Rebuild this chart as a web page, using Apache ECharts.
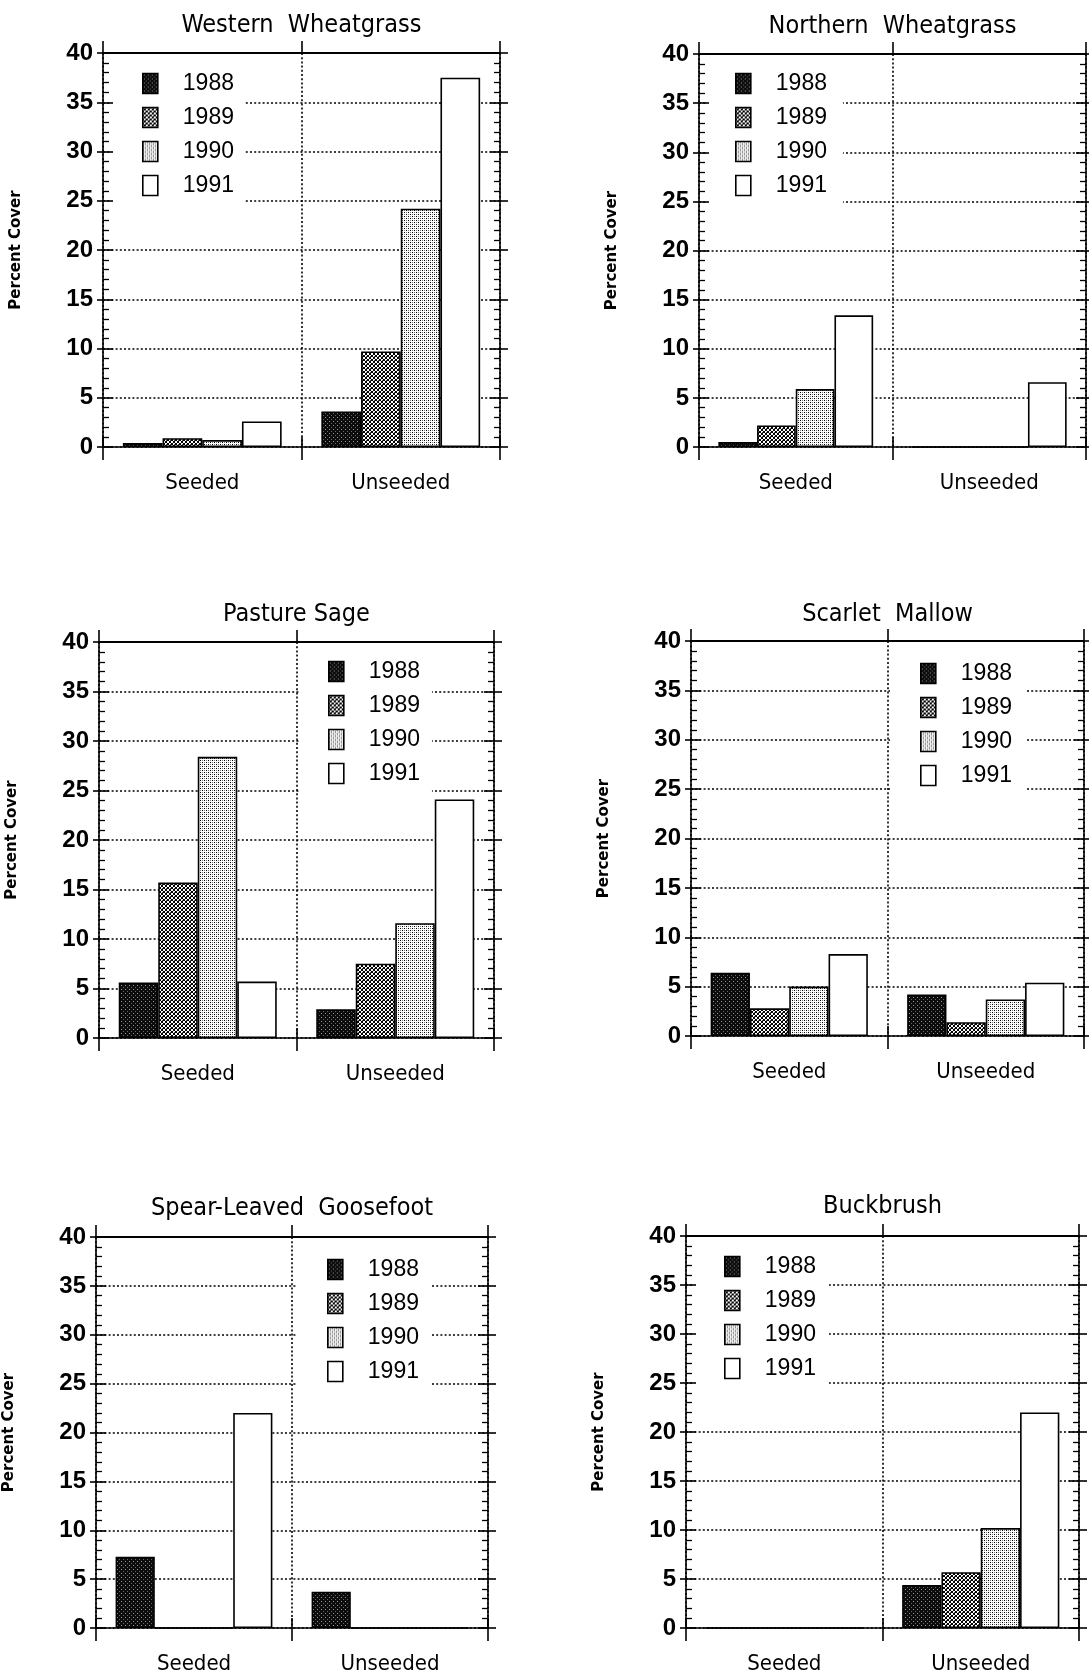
<!DOCTYPE html>
<html>
<head>
<meta charset="utf-8">
<script src="https://cdn.jsdelivr.net/npm/echarts@6/dist/echarts.min.js"></script>
<style>
  html, body { margin: 0; padding: 0; background: #fff; }
  #chart { width: 1089px; height: 1676px; }
</style>
</head>
<body>
<div id="chart"></div>
<script>
// Percent cover by treatment (Seeded / Unseeded) and year
const categories = ['Seeded', 'Unseeded'];
const years = ['1988', '1989', '1990', '1991'];
const panelTitles = ['Western  Wheatgrass', 'Northern  Wheatgrass', 'Pasture Sage',
                     'Scarlet  Mallow', 'Spear-Leaved  Goosefoot', 'Buckbrush'];

// one row per year (1988..1991), columns = [Seeded, Unseeded]
const westernWheatgrass = [[0.4, 3.6], [0.9, 9.7], [0.7, 24.2], [2.6, 37.5]];
const northernWheatgrass = [[0.5, 0], [2.2, 0], [5.9, 0], [13.4, 6.6]];
const pastureSage = [[5.6, 2.9], [15.7, 7.5], [28.4, 11.6], [5.7, 24.1]];
const scarletMallow = [[6.4, 4.2], [2.8, 1.4], [5.0, 3.7], [8.3, 5.4]];
const spearLeavedGoosefoot = [[7.3, 3.7], [0, 0], [0, 0], [22.0, 0]];
const buckbrush = [[0, 4.4], [0, 5.7], [0, 10.2], [0, 22.0]];

const panelData = [westernWheatgrass, northernWheatgrass, pastureSage,
                   scarletMallow, spearLeavedGoosefoot, buckbrush];

// plot boxes (px) for the six panels
const plotBoxes = [
  { l: 103, t: 53,   r: 500,  b: 447 },
  { l: 699, t: 54,   r: 1086, b: 447 },
  { l: 99,  t: 642,  r: 494,  b: 1038 },
  { l: 691, t: 641,  r: 1084, b: 1036 },
  { l: 96,  t: 1237, r: 488,  b: 1628 },
  { l: 686, t: 1236, r: 1079, b: 1628 }
];
const titleCenterY = [25, 26, 614, 614, 1208, 1206];
// legend: box left/top, swatch left, first swatch top, right padding
const legendBoxes = [
  { x: 110, y: 57,   sx: 142, sy: 72,   pr: 11 },
  { x: 706, y: 58,   sx: 735, sy: 72,   pr: 16 },
  { x: 300, y: 646,  sx: 328, sy: 660,  pr: 12 },
  { x: 890, y: 645,  sx: 920, sy: 662,  pr: 15 },
  { x: 297, y: 1241, sx: 327, sy: 1258, pr: 13 },
  { x: 692, y: 1240, sx: 724, sy: 1255, pr: 13 }
];

const CONDENSED = "'DejaVu Sans Condensed', 'Liberation Sans', sans-serif";
const SANS = "'Liberation Sans', Arial, sans-serif";
const INK = '#000';

function makePattern(size, bg, dots) {
  const c = document.createElement('canvas');
  c.width = c.height = size;
  const ctx = c.getContext('2d');
  ctx.fillStyle = bg;
  ctx.fillRect(0, 0, size, size);
  dots.forEach(([x, y, col]) => { ctx.fillStyle = col; ctx.fillRect(x, y, 1, 1); });
  return { image: c, repeat: 'repeat' };
}

// shaded fills for the four years
const fills = [
  makePattern(4, '#0c0c0c', [[1, 1, '#9a9a9a'], [3, 3, '#666666']]),
  makePattern(4, '#ffffff', [[0, 0, '#000'], [1, 1, '#000'], [2, 2, '#000'], [3, 3, '#000'],
                             [3, 0, '#000'], [2, 1, '#000'], [1, 2, '#000'], [0, 3, '#000'],
                             [2, 0, '#555']]),
  makePattern(4, '#ffffff', [[0, 0, '#000'], [2, 2, '#000'], [2, 0, '#777'], [0, 2, '#777']]),
  '#ffffff'
];

const axisLineStyle = { color: INK, width: 1.6 };
const dotted = { color: INK, width: 1.6, type: [2, 2.2] };

const grid = [], xAxis = [], yAxis = [], series = [], legend = [], title = [];

plotBoxes.forEach((p, i) => {
  grid.push({ left: p.l, top: p.t, width: p.r - p.l, height: p.b - p.t, containLabel: false });

  // bottom axis: labels + inward ticks
  xAxis.push({
    gridIndex: i, type: 'category', data: categories, position: 'bottom', z: 3,
    axisLine: { show: true, onZero: false, lineStyle: axisLineStyle },
    axisTick: { show: true, inside: true, length: 10, lineStyle: axisLineStyle },
    axisLabel: { color: INK, fontSize: 22, fontFamily: CONDENSED, margin: 25 },
    splitLine: { show: false }
  });
  // bottom axis: outward ticks + dotted category divider
  xAxis.push({
    gridIndex: i, type: 'category', data: categories, position: 'bottom', z: 0,
    axisLine: { show: false, onZero: false },
    axisTick: { show: true, inside: false, length: 13, lineStyle: axisLineStyle },
    axisLabel: { show: false },
    splitLine: { show: true, lineStyle: dotted }
  });
  // top frame line
  xAxis.push({
    gridIndex: i, type: 'category', data: categories, position: 'top', z: 3,
    axisLine: { show: true, onZero: false, lineStyle: { color: INK, width: 2 } },
    axisTick: { show: true, inside: false, length: 12, lineStyle: axisLineStyle },
    axisLabel: { show: false },
    splitLine: { show: false }
  });

  const valueBase = { gridIndex: i, type: 'value', min: 0, max: 40, interval: 5 };
  // left axis: labels, name, inward ticks
  yAxis.push(Object.assign({}, valueBase, {
    position: 'left', z: 3,
    name: 'Percent Cover', nameLocation: 'middle', nameGap: 79, nameRotate: 90,
    nameTextStyle: { color: INK, fontFamily: "'DejaVu Sans', sans-serif", fontWeight: 'bold', fontSize: 15 },
    axisLine: { show: true, onZero: false, lineStyle: axisLineStyle },
    axisTick: { show: true, inside: true, length: 10, lineStyle: axisLineStyle },
    minorTick: { show: true, splitNumber: 5, length: 6, lineStyle: { color: INK, width: 1.3 } },
    axisLabel: { color: INK, fontSize: 24, fontWeight: 'bold', fontFamily: SANS, margin: 10 },
    splitLine: { show: false }
  }));
  // left axis: outward ticks + dotted grid
  yAxis.push(Object.assign({}, valueBase, {
    position: 'left', z: 0,
    axisLine: { show: false, onZero: false },
    axisTick: { show: true, inside: false, length: 6, lineStyle: axisLineStyle },
    axisLabel: { show: false },
    splitLine: { show: true, lineStyle: dotted }
  }));
  // right frame axis: inward ticks
  yAxis.push(Object.assign({}, valueBase, {
    position: 'right', z: 3,
    axisLine: { show: true, onZero: false, lineStyle: axisLineStyle },
    axisTick: { show: true, inside: true, length: 10, lineStyle: axisLineStyle },
    minorTick: { show: true, splitNumber: 5, length: 6, lineStyle: { color: INK, width: 1.3 } },
    axisLabel: { show: false },
    splitLine: { show: false }
  }));
  // right frame axis: outward ticks
  yAxis.push(Object.assign({}, valueBase, {
    position: 'right', z: 0,
    axisLine: { show: false, onZero: false },
    axisTick: { show: true, inside: false, length: 8, lineStyle: axisLineStyle },
    axisLabel: { show: false },
    splitLine: { show: false }
  }));

  years.forEach((yr, j) => {
    series.push({
      type: 'bar', name: yr, xAxisIndex: i * 3, yAxisIndex: i * 4,
      data: panelData[i][j],
      barGap: '0%', barCategoryGap: '20%', z: 2,
      itemStyle: { color: fills[j], borderColor: INK, borderWidth: 1.6 },
      emphasis: { disabled: true }, silent: true
    });
  });

  const lg = legendBoxes[i];
  legend.push({
    orient: 'vertical', left: lg.x, top: lg.y,
    padding: [lg.sy - lg.y, lg.pr, 9, lg.sx - lg.x],
    backgroundColor: '#fff', z: 1,
    data: years, icon: 'rect', itemWidth: 15, itemHeight: 20, itemGap: 11,
    selectedMode: false,
    itemStyle: { borderColor: INK, borderWidth: 1.6 },
    textStyle: { color: INK, fontSize: 23, fontFamily: SANS, lineHeight: 20, padding: [0, 0, 0, 20] }
  });

  title.push({
    text: panelTitles[i], left: (p.l + p.r) / 2, top: titleCenterY[i] - 15,
    textAlign: 'center', padding: 0,
    textStyle: { color: INK, fontSize: 25, fontWeight: 'normal', fontFamily: CONDENSED, lineHeight: 30 }
  });
});

const chart = echarts.init(document.getElementById('chart'), null, { renderer: 'canvas' });
chart.setOption({
  animation: false,
  backgroundColor: '#fff',
  title, grid, xAxis, yAxis, legend, series,
  tooltip: { show: false }
});
</script>
</body>
</html>
